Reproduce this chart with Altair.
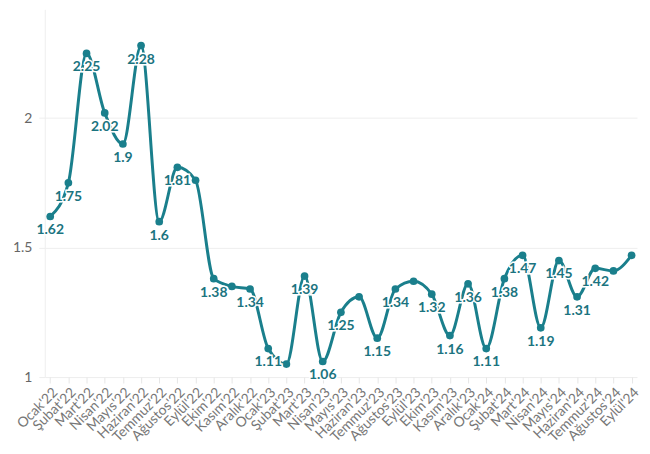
import altair as alt
import pandas as pd

months = ["Ocak'22", "Şubat'22", "Mart'22", "Nisan'22", "Mayıs'22", "Haziran'22",
          "Temmuz'22", "Ağustos'22", "Eylül'22", "Ekim'22", "Kasım'22", "Aralık'22",
          "Ocak'23", "Şubat'23", "Mart'23", "Nisan'23", "Mayıs'23", "Haziran'23",
          "Temmuz'23", "Ağustos'23", "Eylül'23", "Ekim'23", "Kasım'23", "Aralık'23",
          "Ocak'24", "Şubat'24", "Mart'24", "Nisan'24", "Mayıs'24", "Haziran'24",
          "Temmuz'24", "Ağustos'24", "Eylül'24"]
values = [1.62, 1.75, 2.25, 2.02, 1.9, 2.28,
          1.6, 1.81, 1.76, 1.38, 1.35, 1.34,
          1.11, 1.05, 1.39, 1.06, 1.25, 1.31,
          1.15, 1.34, 1.37, 1.32, 1.16, 1.36,
          1.11, 1.38, 1.47, 1.19, 1.45, 1.31,
          1.42, 1.41, 1.47]
labels = ["1.62", "1.75", "2.25", "2.02", "1.9", "2.28",
          "1.6", "1.81", "", "1.38", "", "1.34",
          "1.11", "", "1.39", "1.06", "1.25", "",
          "1.15", "1.34", "", "1.32", "1.16", "1.36",
          "1.11", "1.38", "1.47", "1.19", "1.45", "1.31",
          "1.42", "", ""]

df = pd.DataFrame({"month": months, "value": values, "label": labels})

TEAL = "#1a7f8c"
TEXT = "#1b7480"
FONT = "Lato"

x = alt.X("month:N", sort=months, title=None,
          scale=alt.Scale(type="point", padding=0.3),
          axis=alt.Axis(labelAngle=-45, labelFontSize=14, labelColor="#777",
                        labelFont=FONT, tickColor="#e6e6e6", tickSize=6,
                        domain=False, grid=False, labelPadding=2))
y = alt.Y("value:Q", title=None,
          scale=alt.Scale(domain=[1, 2.42], nice=False, zero=False),
          axis=alt.Axis(values=[1, 1.5, 2], format="~g", labelFontSize=14, labelColor="#666",
                        labelFont=FONT, tickColor="#eeeeee", tickSize=6,
                        labelPadding=7, gridColor="#eeeeee", domainColor="#eeeeee"))

base = alt.Chart(df).encode(x=x, y=y)

line = base.mark_line(color=TEAL, strokeWidth=3, interpolate="monotone")
pts = base.mark_circle(color=TEAL, size=60, opacity=1)
halo = base.mark_text(dy=14, fontSize=14, fontWeight="bold", font=FONT,
                      stroke="white", strokeWidth=3, fill="white").encode(text="label:N")
txt = base.mark_text(dy=14, fontSize=14, fontWeight="bold", font=FONT,
                     color=TEXT).encode(text="label:N")

chart = (line + pts + halo + txt).properties(
    width=596, height=370,
    padding={"left": 4, "top": 0, "right": 0, "bottom": 0},
).configure_view(stroke=None)

chart.save("out.html", embed_options={"renderer": "svg", "actions": False})
